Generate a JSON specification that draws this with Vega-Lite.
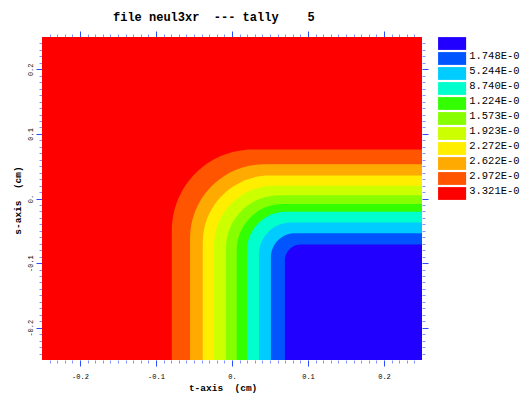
{
  "$schema": "https://vega.github.io/schema/vega-lite/v6.json",
  "width": 380,
  "height": 323,
  "autosize": {"type": "none"},
  "padding": {"left": 42, "top": 37, "right": 99, "bottom": 33},
  "background": "white",
  "title": {
    "text": "file neul3xr\u00a0\u00a0--- tally\u00a0\u00a0\u00a0\u00a05",
    "anchor": "start",
    "frame": "group",
    "dx": 71,
    "offset": 7,
    "font": "Liberation Mono",
    "fontSize": 12,
    "fontWeight": "bold",
    "color": "black"
  },
  "data": {
    "values": [
      {"level": 0, "label": "3.321E-0", "x": -0.25, "x2": 0.25, "y": -0.25, "y2": 0.25},
      {"level": 1, "label": "2.972E-0", "x": -0.0792, "x2": 0.25, "y": -0.25, "y2": 0.0759},
      {"level": 2, "label": "2.622E-0", "x": -0.0552, "x2": 0.25, "y": -0.25, "y2": 0.0531},
      {"level": 3, "label": "2.272E-0", "x": -0.0385, "x2": 0.25, "y": -0.25, "y2": 0.0356},
      {"level": 4, "label": "1.923E-0", "x": -0.0237, "x2": 0.25, "y": -0.25, "y2": 0.0196},
      {"level": 5, "label": "1.573E-0", "x": -0.0079, "x2": 0.25, "y": -0.25, "y2": 0.0052},
      {"level": 6, "label": "1.224E-0", "x": 0.0062, "x2": 0.25, "y": -0.25, "y2": -0.0087},
      {"level": 7, "label": "8.740E-0", "x": 0.0197, "x2": 0.25, "y": -0.25, "y2": -0.0206},
      {"level": 8, "label": "5.244E-0", "x": 0.0355, "x2": 0.25, "y": -0.25, "y2": -0.037},
      {"level": 9, "label": "1.748E-0", "x": 0.0512, "x2": 0.25, "y": -0.25, "y2": -0.0536},
      {"level": 10, "label": "lo", "x": 0.0696, "x2": 0.25, "y": -0.25, "y2": -0.0711}
    ]
  },
  "encoding": {
    "x": {"field": "x", "type": "quantitative", "scale": {"domain": [-0.25, 0.25], "nice": false, "zero": false}, "axis": null},
    "x2": {"field": "x2"},
    "y": {"field": "y", "type": "quantitative", "scale": {"domain": [-0.25, 0.25], "nice": false, "zero": false}, "axis": null},
    "y2": {"field": "y2"},
    "color": {
      "field": "label",
      "type": "nominal",
      "scale": {
        "domain": ["lo", "1.748E-0", "5.244E-0", "8.740E-0", "1.224E-0", "1.573E-0", "1.923E-0", "2.272E-0", "2.622E-0", "2.972E-0", "3.321E-0"],
        "range": ["#2200FF", "#0055FF", "#00CCFF", "#00FFCC", "#33FF00", "#88FF00", "#CCFF00", "#FFEE00", "#FFAA00", "#FF5500", "#FF0000"]
      },
      "legend": {
        "orient": "none",
        "legendX": 403.6,
        "legendY": 0,
        "title": null,
        "symbolType": "M-2.19,-1H2.19V1H-2.19Z",
        "symbolSize": 164,
        "symbolStrokeWidth": 0,
        "symbolOpacity": 1,
        "labelFont": "Liberation Mono",
        "labelFontSize": 10.5,
        "labelColor": "black",
        "labelOffset": 10.6,
        "labelBaseline": "alphabetic",
        "rowPadding": 0,
        "padding": 0,
        "labelExpr": "datum.value == 'lo' ? '' : datum.label"
      }
    }
  },
  "layer": [
    {
      "transform": [{"filter": "datum.level == 0"}],
      "mark": {"type": "rect"},
      "encoding": {
        "x": {
          "field": "x", "type": "quantitative",
          "scale": {"domain": [-0.25, 0.25], "nice": false, "zero": false},
          "axis": {
            "orient": "bottom",
            "values": [-0.24,-0.23,-0.22,-0.21,-0.2,-0.19,-0.18,-0.17,-0.16,-0.15,-0.14,-0.13,-0.12,-0.11,-0.1,-0.09,-0.08,-0.07,-0.06,-0.05,-0.04,-0.03,-0.02,-0.01,0,0.01,0.02,0.03,0.04,0.05,0.06,0.07,0.08,0.09,0.1,0.11,0.12,0.13,0.14,0.15,0.16,0.17,0.18,0.19,0.2,0.21,0.22,0.23,0.24],
            "domain": false,
            "grid": false,
            "tickWidth": 1,
            "tickColor": {"condition": {"test": "abs(round(datum.value*100)) % 10 == 0", "value": "#2a4cff"}, "value": "#7d93ff"},
            "tickSize": {"condition": {"test": "abs(round(datum.value*100)) % 10 == 0", "value": 6}, "value": 3},
            "labelExpr": "abs(round(datum.value*100)) % 10 == 0 ? (round(datum.value*100) == 0 ? '0.' : (datum.value < 0 ? '-' : '') + '0.' + abs(round(datum.value*10))) : ''",
            "labelFont": "Liberation Mono",
            "labelFontSize": 7,
            "labelColor": "black",
            "labelBaseline": "middle",
            "labelPadding": 10.5,
            "labelOverlap": false,
            "labelFlush": false,
            "title": "t-axis\u00a0\u00a0(cm)",
            "titleFont": "Liberation Mono",
            "titleFontSize": 9.5,
            "titleFontWeight": "bold",
            "titleColor": "black",
            "titleX": 180.6,
            "titleY": 27,
            "titleBaseline": "middle",
            "titleAlign": "center"
          }
        },
        "y": {
          "field": "y", "type": "quantitative",
          "scale": {"domain": [-0.25, 0.25], "nice": false, "zero": false},
          "axis": {
            "orient": "left",
            "values": [-0.24,-0.23,-0.22,-0.21,-0.2,-0.19,-0.18,-0.17,-0.16,-0.15,-0.14,-0.13,-0.12,-0.11,-0.1,-0.09,-0.08,-0.07,-0.06,-0.05,-0.04,-0.03,-0.02,-0.01,0,0.01,0.02,0.03,0.04,0.05,0.06,0.07,0.08,0.09,0.1,0.11,0.12,0.13,0.14,0.15,0.16,0.17,0.18,0.19,0.2,0.21,0.22,0.23,0.24],
            "domain": false,
            "grid": false,
            "tickWidth": 1,
            "tickColor": {"condition": {"test": "abs(round(datum.value*100)) % 10 == 0", "value": "#2a4cff"}, "value": "#7d93ff"},
            "tickSize": {"condition": {"test": "abs(round(datum.value*100)) % 10 == 0", "value": 6}, "value": 3},
            "labelExpr": "abs(round(datum.value*100)) % 10 == 0 ? (round(datum.value*100) == 0 ? '0.' : (datum.value < 0 ? '-' : '') + '0.' + abs(round(datum.value*10))) : ''",
            "labelFont": "Liberation Mono",
            "labelFontSize": 7,
            "labelColor": "black",
            "labelAngle": 270,
            "labelAlign": "center",
            "labelBaseline": "middle",
            "labelPadding": 6,
            "labelOverlap": false,
            "labelFlush": false,
            "title": "s-axis\u00a0\u00a0(cm)",
            "titleFont": "Liberation Mono",
            "titleFontSize": 9.5,
            "titleFontWeight": "bold",
            "titleColor": "black",
            "titleAngle": 270,
            "titleX": -24.5,
            "titleY": 163,
            "titleBaseline": "middle",
            "titleAlign": "center"
          }
        }
      }
    },
    {
      "transform": [{"filter": "datum.level == 1"}],
      "mark": {"type": "rect", "cornerRadiusTopLeft": 81},
      "encoding": {
        "x": {
          "field": "x", "type": "quantitative",
          "scale": {"domain": [-0.25, 0.25], "nice": false, "zero": false},
          "axis": {
            "orient": "top",
            "values": [-0.24,-0.23,-0.22,-0.21,-0.2,-0.19,-0.18,-0.17,-0.16,-0.15,-0.14,-0.13,-0.12,-0.11,-0.1,-0.09,-0.08,-0.07,-0.06,-0.05,-0.04,-0.03,-0.02,-0.01,0,0.01,0.02,0.03,0.04,0.05,0.06,0.07,0.08,0.09,0.1,0.11,0.12,0.13,0.14,0.15,0.16,0.17,0.18,0.19,0.2,0.21,0.22,0.23,0.24],
            "domain": false,
            "grid": false,
            "labels": false,
            "title": null,
            "tickWidth": 1,
            "tickColor": {"condition": {"test": "abs(round(datum.value*100)) % 10 == 0", "value": "#2a4cff"}, "value": "#7d93ff"},
            "tickSize": {"condition": {"test": "abs(round(datum.value*100)) % 10 == 0", "value": 6}, "value": 3}
          }
        },
        "y": {
          "field": "y", "type": "quantitative",
          "scale": {"domain": [-0.25, 0.25], "nice": false, "zero": false},
          "axis": {
            "orient": "right",
            "values": [-0.24,-0.23,-0.22,-0.21,-0.2,-0.19,-0.18,-0.17,-0.16,-0.15,-0.14,-0.13,-0.12,-0.11,-0.1,-0.09,-0.08,-0.07,-0.06,-0.05,-0.04,-0.03,-0.02,-0.01,0,0.01,0.02,0.03,0.04,0.05,0.06,0.07,0.08,0.09,0.1,0.11,0.12,0.13,0.14,0.15,0.16,0.17,0.18,0.19,0.2,0.21,0.22,0.23,0.24],
            "domain": false,
            "grid": false,
            "labels": false,
            "title": null,
            "tickWidth": 1,
            "tickColor": {"condition": {"test": "abs(round(datum.value*100)) % 10 == 0", "value": "#2a4cff"}, "value": "#7d93ff"},
            "tickSize": {"condition": {"test": "abs(round(datum.value*100)) % 10 == 0", "value": 6}, "value": 3}
          }
        }
      }
    },
    {"transform": [{"filter": "datum.level == 2"}], "mark": {"type": "rect", "cornerRadiusTopLeft": 74}},
    {"transform": [{"filter": "datum.level == 3"}], "mark": {"type": "rect", "cornerRadiusTopLeft": 67}},
    {"transform": [{"filter": "datum.level == 4"}], "mark": {"type": "rect", "cornerRadiusTopLeft": 60}},
    {"transform": [{"filter": "datum.level == 5"}], "mark": {"type": "rect", "cornerRadiusTopLeft": 53}},
    {"transform": [{"filter": "datum.level == 6"}], "mark": {"type": "rect", "cornerRadiusTopLeft": 46}},
    {"transform": [{"filter": "datum.level == 7"}], "mark": {"type": "rect", "cornerRadiusTopLeft": 39}},
    {"transform": [{"filter": "datum.level == 8"}], "mark": {"type": "rect", "cornerRadiusTopLeft": 32}},
    {"transform": [{"filter": "datum.level == 9"}], "mark": {"type": "rect", "cornerRadiusTopLeft": 24}},
    {"transform": [{"filter": "datum.level == 10"}], "mark": {"type": "rect", "cornerRadiusTopLeft": 16}}
  ],
  "resolve": {"axis": {"x": "independent", "y": "independent"}},
  "config": {"view": {"stroke": null}, "font": "Liberation Mono"}
}
